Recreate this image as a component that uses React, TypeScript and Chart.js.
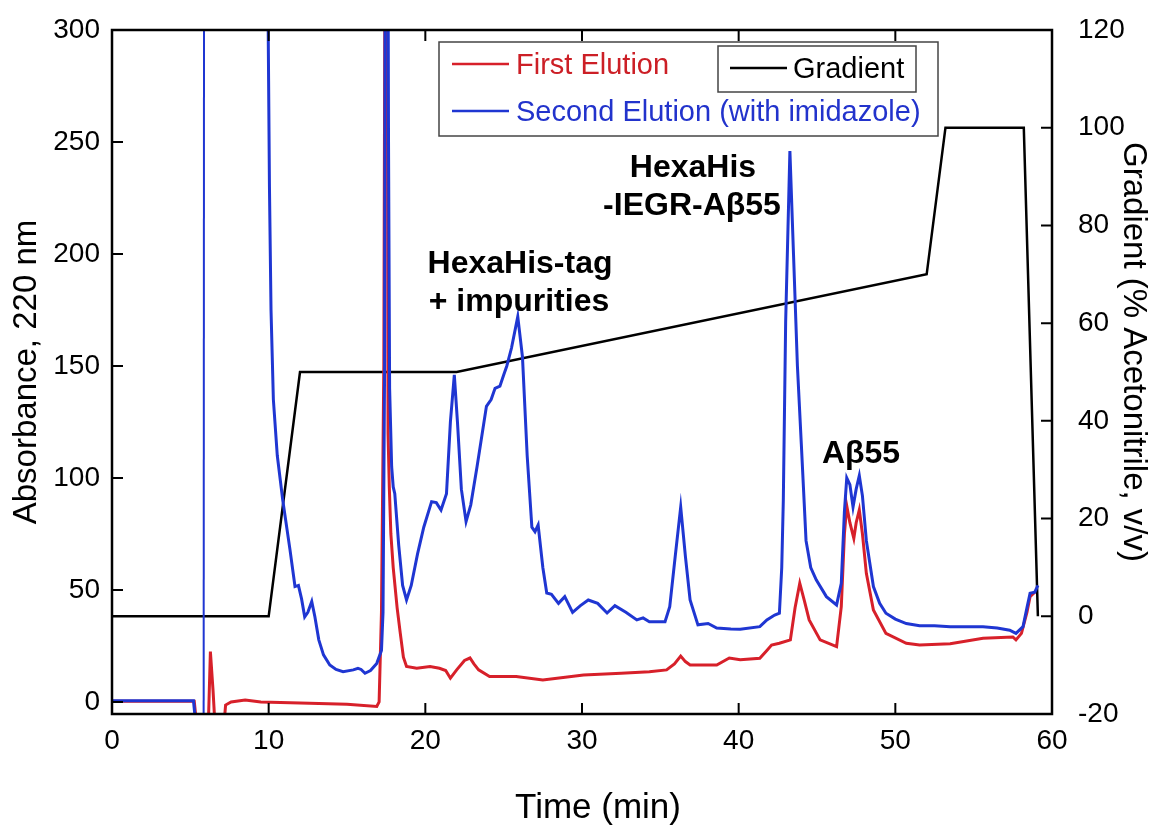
import React, { useEffect, useRef } from "react";
import { Chart, registerables } from "chart.js";

Chart.register(...registerables);

// ---- Data (time in min, absorbance / % acetonitrile) ----
const timeTicks = [0, 10, 20, 30, 40, 50, 60];
const absorbanceTicks = [0, 50, 100, 150, 200, 250, 300];
const gradientTicks = [-20, 0, 20, 40, 60, 80, 100, 120];

const firstElution: [number, number][] = [
  [0, 0.3], [5.25, 0.3], [5.4, -10], [6.15, -10], [6.28, 22.5], [6.45, 5], [6.57, -10],
  [7.15, -10], [7.25, -1.4], [7.6, 0], [8.5, 0.8], [9.5, 0], [12, -0.5], [15, -1],
  [16.9, -2], [17.05, 0], [17.2, 40], [17.35, 150], [17.45, 400], [17.55, 400],
  [17.62, 120], [17.7, 96], [17.8, 75], [17.95, 60], [18.2, 42], [18.4, 30.7],
  [18.6, 20], [18.8, 15.8],
  [19.45, 15], [20.3, 15.8], [20.9, 15], [21.3, 14], [21.6, 10.6], [22.0, 14.3],
  [22.5, 18.5], [22.85, 19.6], [23.1, 17], [23.4, 14.3], [24.1, 11.3], [25.8, 11.3],
  [27.5, 9.8], [30.1, 12], [32.5, 12.8], [34.3, 13.5], [35.4, 14.3], [35.9, 17],
  [36.3, 20.5], [36.6, 18], [36.9, 16.5], [38.6, 16.5], [39.4, 19.6], [40.1, 18.8],
  [41.35, 19.5], [41.8, 23], [42.1, 25.4], [42.6, 26.2], [43.3, 27.7], [43.6, 42],
  [43.9, 53], [44.2, 45], [44.5, 36.6], [45.2, 27.7], [46.25, 24.7], [46.55, 42.5],
  [46.75, 75], [46.9, 87.5], [47.1, 80], [47.35, 73], [47.5, 80], [47.7, 85.7],
  [47.9, 75], [48.15, 57.4], [48.6, 41], [49.4, 30.6], [50.7, 26.2], [51.55, 25.4],
  [53.5, 26], [55.6, 28.4], [57.5, 29], [57.7, 27.7], [58.05, 30.6], [58.4, 40],
  [58.6, 47], [58.9, 49],
];

const secondElution: [number, number][] = [
  [0, 0.5], [5.2, 0.5], [5.35, -10], [5.85, -10], [5.88, 400], [9.9, 400], [9.97, 300],
  [10.05, 230], [10.15, 175], [10.3, 135], [10.55, 110], [10.9, 90], [11.36, 68],
  [11.68, 51.5], [11.9, 52], [12.1, 46], [12.3, 38], [12.5, 40], [12.75, 44.8],
  [12.95, 38], [13.2, 27.7], [13.5, 21], [13.9, 16.5], [14.3, 14.5], [14.75, 13.5],
  [15.4, 14.3], [15.7, 15], [15.9, 14.5], [16.15, 12.8], [16.5, 14], [16.9, 17.2],
  [17.2, 23], [17.3, 40], [17.4, 150], [17.45, 400], [17.6, 400], [17.65, 250],
  [17.72, 140], [17.85, 105], [17.95, 96], [18.05, 93], [18.3, 70], [18.55, 52],
  [18.8, 45.5],
  [19.1, 52], [19.5, 66], [19.9, 78], [20.4, 89.4], [20.7, 89], [21.0, 85.7],
  [21.35, 93], [21.6, 125], [21.85, 146], [22.05, 125], [22.3, 95], [22.6, 80.5],
  [22.9, 88], [23.3, 105], [23.9, 132], [24.2, 135], [24.45, 140], [24.76, 141],
  [25.0, 146], [25.2, 150], [25.5, 158], [25.9, 172], [26.2, 154], [26.5, 110],
  [26.8, 78], [27.0, 76], [27.2, 79], [27.5, 60], [27.75, 48.6], [28.05, 48],
  [28.5, 44], [28.9, 47], [29.4, 40], [29.9, 43], [30.4, 45.5], [31.0, 44],
  [31.6, 39.7], [32.1, 43], [32.8, 40], [33.5, 36.6], [33.9, 37.5], [34.3, 35.8],
  [35.3, 35.8], [35.6, 42.5], [35.95, 65], [36.3, 87], [36.6, 65], [36.9, 45.5],
  [37.4, 34.4], [38.05, 35], [38.6, 33], [39.5, 32.5], [40.1, 32.4], [41.35, 33.6],
  [41.8, 36.6], [42.3, 38.8], [42.6, 39.6], [42.75, 60], [42.85, 90], [43.0, 170],
  [43.27, 246], [43.5, 200], [43.75, 150], [44.0, 115], [44.3, 72], [44.6, 60],
  [44.95, 54.5], [45.6, 47], [46.25, 43.3], [46.55, 53], [46.75, 85], [46.9, 100],
  [47.1, 97], [47.3, 87], [47.5, 95], [47.7, 101], [47.9, 92], [48.15, 72],
  [48.6, 51.5], [49.0, 44], [49.4, 39.6], [50.0, 37], [50.7, 35], [51.55, 34],
  [52.5, 34], [53.5, 33.6], [55.6, 33.6], [56.5, 33], [57.3, 32], [57.7, 30.6],
  [58.15, 33.6], [58.4, 42], [58.6, 48.5], [58.9, 49], [59.1, 52],
];

const gradient: [number, number][] = [
  [0, 0], [10, 0], [12, 50], [22, 50], [52, 70], [53.2, 100], [58.2, 100], [59.1, 0],
];

const seriesLabels = ["First Elution", "Second Elution (with imidazole)", "Gradient"];
const axisTitles = { x: "Time (min)", y: "Absorbance, 220 nm", y1: "Gradient (% Acetonitrile, v/v)" };
const annotations: { text: string; x: number; y: number }[] = [
  { text: "HexaHis-tag", x: 520, y: 273 },
  { text: "+ impurities", x: 519, y: 311 },
  { text: "HexaHis", x: 693, y: 177 },
  { text: "-IEGR-A\u03b255", x: 692, y: 215 },
  { text: "A\u03b255", x: 861, y: 463 },
];

const RED = "#d7202a";
const BLUE = "#1f36d2";
const FONT = "'Liberation Sans', Arial, Helvetica, sans-serif";

const framePlugin = {
  id: "frameTicks",
  afterDraw(chart: any) {
    const { ctx, chartArea: a, scales } = chart;
    const L = 11;
    ctx.save();
    ctx.strokeStyle = "#000";
    ctx.lineWidth = 2.5;
    ctx.strokeRect(a.left, a.top, a.right - a.left, a.bottom - a.top);
    ctx.lineWidth = 2;
    ctx.beginPath();
    for (const t of scales.x.ticks) {
      const px = scales.x.getPixelForValue(t.value);
      ctx.moveTo(px, a.bottom);
      ctx.lineTo(px, a.bottom - L);
      ctx.moveTo(px, a.top);
      ctx.lineTo(px, a.top + L);
    }
    for (const t of scales.y.ticks) {
      const py = scales.y.getPixelForValue(t.value);
      ctx.moveTo(a.left, py);
      ctx.lineTo(a.left + L, py);
    }
    for (const t of scales.y1.ticks) {
      const py = scales.y1.getPixelForValue(t.value);
      ctx.moveTo(a.right, py);
      ctx.lineTo(a.right - L, py);
    }
    ctx.stroke();

    // axis titles
    ctx.fillStyle = "#000";
    ctx.textAlign = "center";
    ctx.textBaseline = "middle";
    ctx.font = `35px ${FONT}`;
    ctx.fillText(axisTitles.x, 598, 808);
    ctx.font = `33px ${FONT}`;
    ctx.save();
    ctx.translate(27, 372);
    ctx.rotate(-Math.PI / 2);
    ctx.fillText(axisTitles.y, 0, 0);
    ctx.restore();
    ctx.save();
    ctx.translate(1133, 352);
    ctx.rotate(Math.PI / 2);
    ctx.fillText(axisTitles.y1, 0, 0);
    ctx.restore();

    // legend boxes
    ctx.lineWidth = 1.5;
    ctx.strokeStyle = "#444";
    ctx.fillStyle = "#fff";
    ctx.fillRect(439, 42, 499, 94);
    ctx.strokeRect(439, 42, 499, 94);
    ctx.fillRect(718, 46, 198, 46);
    ctx.strokeRect(718, 46, 198, 46);
    ctx.lineWidth = 2.5;
    const ds = chart.data.datasets;
    const item = (x1: number, x2: number, y: number, color: string, text: string, textColor: string, tx: number, ty: number) => {
      ctx.strokeStyle = color;
      ctx.beginPath();
      ctx.moveTo(x1, y);
      ctx.lineTo(x2, y);
      ctx.stroke();
      ctx.fillStyle = textColor;
      ctx.font = `29px ${FONT}`;
      ctx.textAlign = "left";
      ctx.textBaseline = "alphabetic";
      ctx.fillText(text, tx, ty);
    };
    item(452, 509, 64, ds[0].borderColor, ds[0].label, "#cc1f26", 516, 74);
    item(452, 509, 111, ds[1].borderColor, ds[1].label, "#2233cc", 516, 121);
    item(730, 787, 68, "#000", ds[2].label, "#000", 793, 78);

    // annotations
    ctx.fillStyle = "#000";
    ctx.font = `bold 32px ${FONT}`;
    ctx.textAlign = "center";
    ctx.textBaseline = "alphabetic";
    for (const an of annotations) ctx.fillText(an.text, an.x, an.y);
    ctx.restore();
  },
};

const fixedTicks = (vals: number[]) => (scale: any) => {
  scale.ticks = vals.map((v) => ({ value: v }));
};

export default function App() {
  const ref = useRef<HTMLCanvasElement>(null);
  useEffect(() => {
    if (!ref.current) return;
    const tickFont = { family: FONT, size: 28 };
    const chart = new Chart(ref.current, {
      type: "line",
      data: {
        datasets: [
          {
            label: seriesLabels[0],
            data: firstElution.map(([x, y]) => ({ x, y })),
            borderColor: RED,
            borderWidth: 3,
            pointRadius: 0,
            yAxisID: "y",
            order: 2,
          },
          {
            label: seriesLabels[1],
            data: secondElution.map(([x, y]) => ({ x, y })),
            borderColor: BLUE,
            borderWidth: 3,
            pointRadius: 0,
            yAxisID: "y",
            order: 1,
            segment: {
              borderWidth: (c: any) => (c.p0.parsed.x > 5.8 && c.p1.parsed.x < 5.9 ? 2 : 3),
            },
          },
          {
            label: seriesLabels[2],
            data: gradient.map(([x, y]) => ({ x, y })),
            borderColor: "#000",
            borderWidth: 2.5,
            pointRadius: 0,
            yAxisID: "y1",
            order: 3,
          },
        ],
      },
      options: {
        animation: false,
        responsive: false,
        devicePixelRatio: 1,
        layout: { padding: { top: 30, left: 0, right: 0, bottom: 0 } },
        plugins: { legend: { display: false }, tooltip: { enabled: false } },
        elements: { line: { tension: 0 } },
        scales: {
          x: {
            type: "linear",
            position: "bottom",
            min: 0,
            max: 60,
            grid: { display: false, drawTicks: false },
            border: { display: false },
            afterBuildTicks: fixedTicks(timeTicks),
            afterFit: (s: any) => { s.height = 113; s.paddingLeft = 0; s.paddingRight = 0; },
            ticks: { font: tickFont, color: "#000", padding: 10, maxRotation: 0 },
          },
          y: {
            type: "linear",
            position: "left",
            min: -5.4,
            max: 300,
            grid: { display: false, drawTicks: false },
            border: { display: false },
            afterBuildTicks: fixedTicks(absorbanceTicks),
            afterFit: (s: any) => { s.width = 112; s.paddingTop = 0; s.paddingBottom = 0; },
            ticks: { font: tickFont, color: "#000", padding: 12 },
          },
          y1: {
            type: "linear",
            position: "right",
            min: -20,
            max: 120,
            grid: { display: false, drawTicks: false },
            border: { display: false },
            afterBuildTicks: fixedTicks(gradientTicks),
            afterFit: (s: any) => { s.width = 99; s.paddingTop = 0; s.paddingBottom = 0; },
            ticks: { font: tickFont, color: "#000", padding: 26 },
          },
        },
      },
      plugins: [framePlugin],
    } as any);
    return () => chart.destroy();
  }, []);
  return (
    <div style={{ position: "absolute", left: 0, top: 0, width: 1151, height: 827, background: "#fff" }}>
      <canvas ref={ref} width={1151} height={827} style={{ display: "block" }} />
    </div>
  );
}
